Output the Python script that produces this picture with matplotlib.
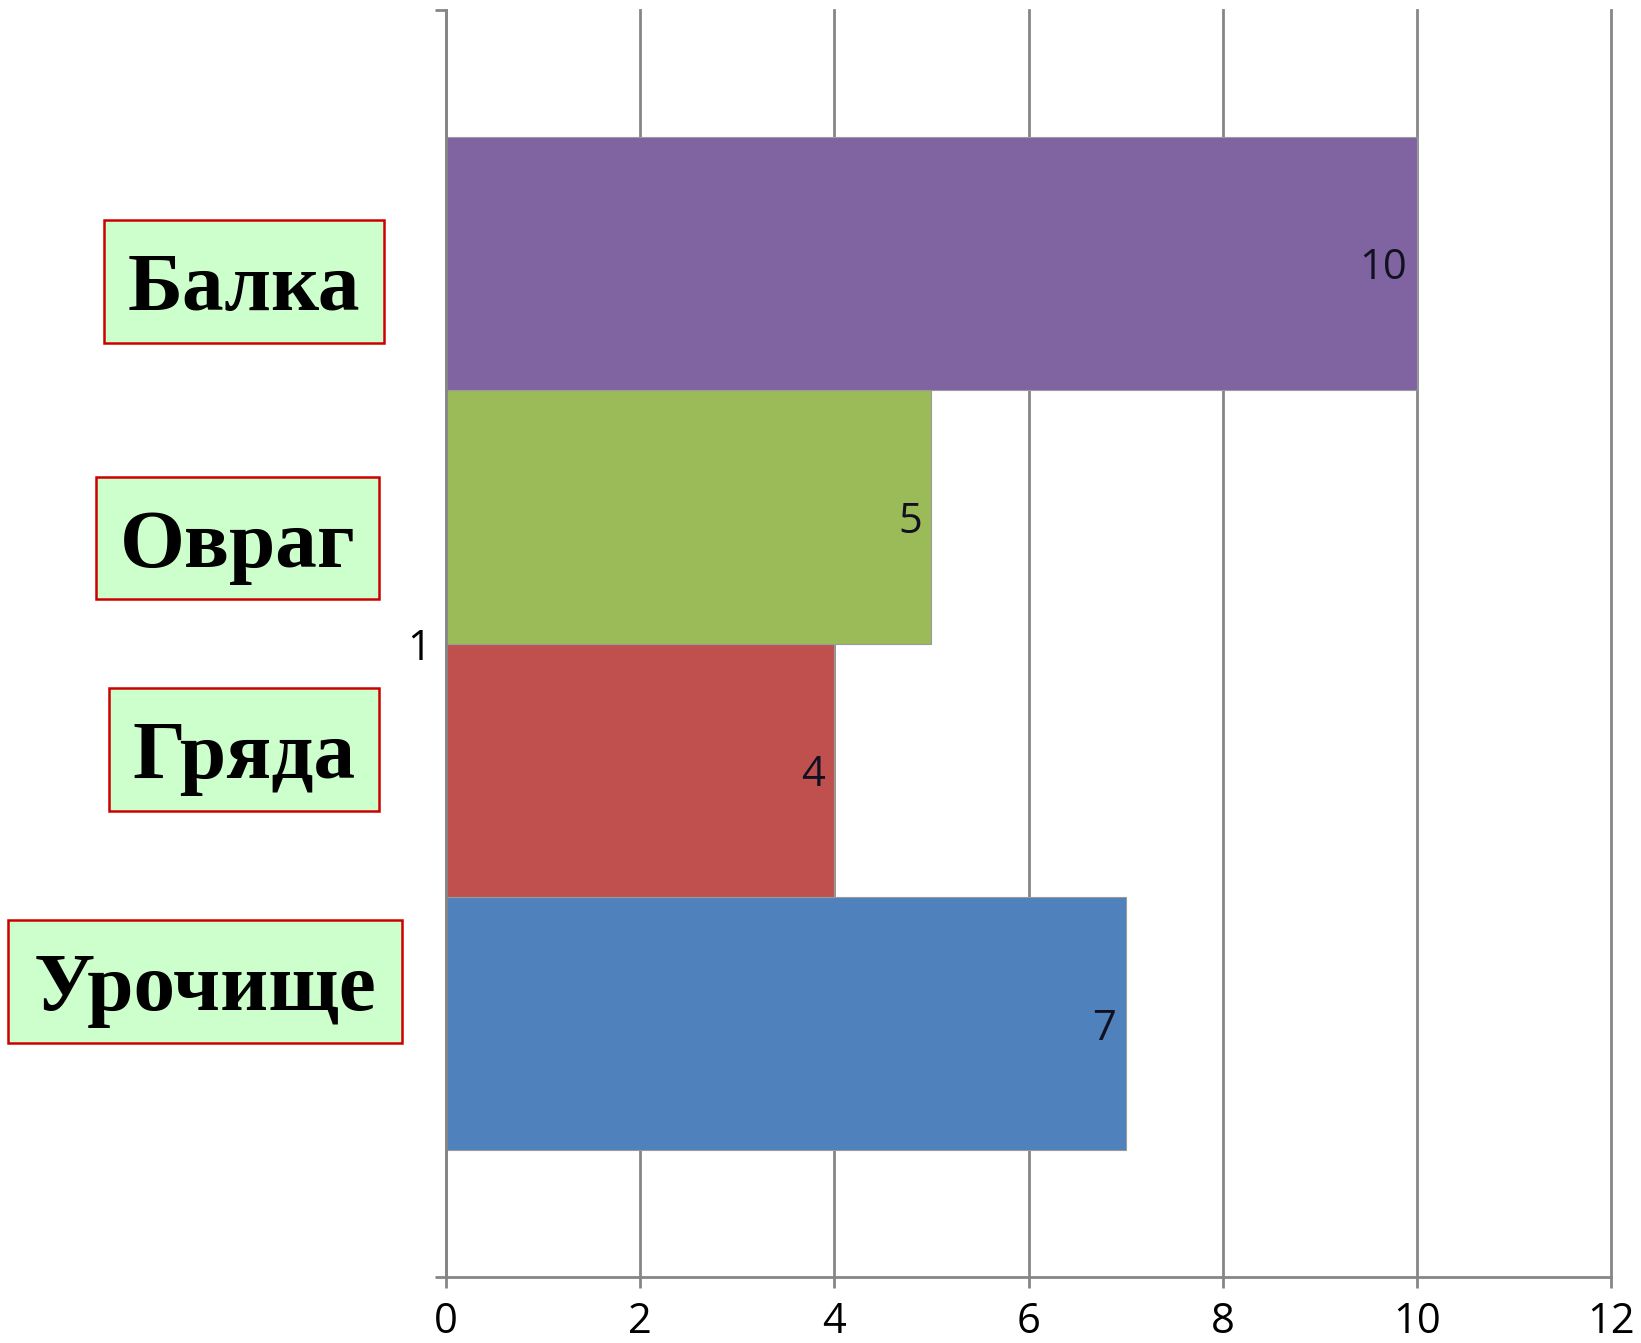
import matplotlib.pyplot as plt
from matplotlib.patches import Rectangle

# data (bottom to top as drawn)
names = ['Урочище', 'Гряда', 'Овраг', 'Балка']
values = [7, 4, 5, 10]
colors = ['#4F81BD', '#C0504D', '#9BBB59', '#8064A2']
offsets = [-0.3, -0.1, 0.1, 0.3]
x_ticks = [0, 2, 4, 6, 8, 10, 12]

W, H = 1641, 1343
fig = plt.figure(figsize=(W / 100, H / 100), dpi=100)
ax = fig.add_axes([446 / W, 1 - 1277 / H, (1611 - 446) / W, (1277 - 10) / H])

grey = '#868686'
bar_h = 0.2
for v, c, off in zip(values, colors, offsets):
    ax.barh(1 + off, v, height=bar_h, color=c, edgecolor='#9a9a9a', linewidth=0.8, zorder=3)
    ax.text(v - 0.1, 1 + off, str(v), ha='right', va='center_baseline', fontsize=30,
            family='Open Sans', color='#111122', zorder=4)

ax.set_xlim(0, 12)
ax.set_ylim(0.5, 1.5)
ax.set_xticks(x_ticks)
ax.set_xticklabels([str(t) for t in x_ticks], family='Open Sans', fontsize=30)
ax.set_yticks([0.5, 1.5])
ax.set_yticklabels(['', ''])
ax.set_yticks([1], minor=True)
ax.set_yticklabels(['1'], minor=True, family='Open Sans', fontsize=30)
ax.tick_params(axis='y', which='minor', length=0, pad=11)
ax.tick_params(axis='y', which='major', length=8, width=2, color=grey)
ax.tick_params(axis='x', length=8, width=2, color=grey, pad=9)
ax.grid(axis='x', color=grey, linewidth=2, zorder=1)
for gl in ax.get_xgridlines():
    gl.set_clip_on(False)
ax.set_axisbelow(True)
for s in ['top', 'right']:
    ax.spines[s].set_visible(False)
for s in ['left', 'bottom']:
    ax.spines[s].set_color(grey)
    ax.spines[s].set_linewidth(2)
    ax.spines[s].set_zorder(5)

# label boxes on the left (pixel boxes: x0, x1, y_top, y_bottom)
boxes = {
    'Балка': (104, 384, 220, 343),
    'Овраг': (96, 379, 477, 599),
    'Гряда': (109, 379, 688, 811),
    'Урочище': (8, 402, 920, 1043),
}
for name, (x0, x1, yt, yb) in boxes.items():
    fig.patches.append(Rectangle((x0 / W, 1 - yb / H), (x1 - x0) / W, (yb - yt) / H,
                                 transform=fig.transFigure, facecolor='#CCFFCC',
                                 edgecolor='#CC0000', linewidth=1.8))
    fig.text((x0 + x1) / 2 / W, 1 - (yt + 90) / H, name, ha='center', va='baseline',
             family='Liberation Serif', weight='bold', fontsize=60, color='black')

fig.savefig('out.png', dpi=100)
